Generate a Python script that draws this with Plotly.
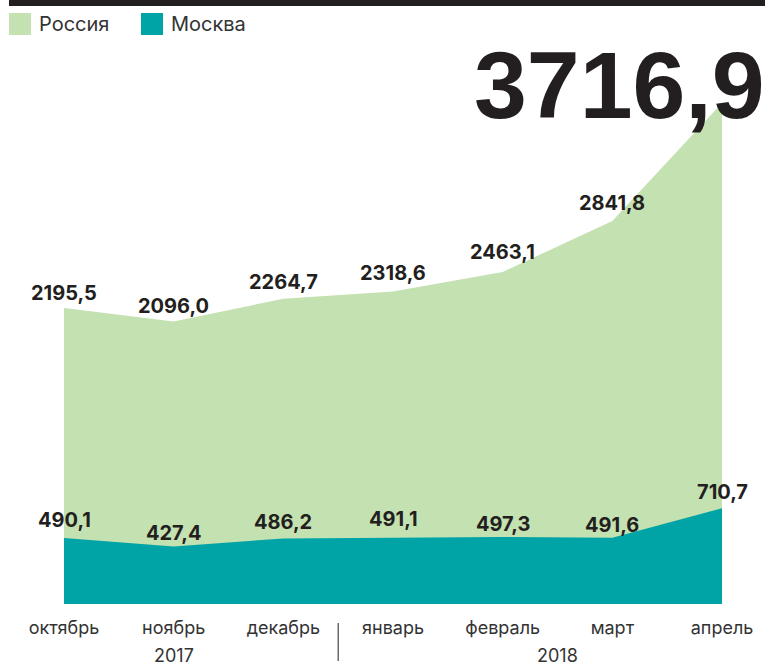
import plotly.graph_objects as go

months = ["октябрь", "ноябрь", "декабрь", "январь", "февраль", "март", "апрель"]
russia = [2195.5, 2096.0, 2264.7, 2318.6, 2463.1, 2841.8, 3716.9]
moscow = [490.1, 427.4, 486.2, 491.1, 497.3, 491.6, 710.7]
years = ["2017", "2018"]
year_pos = [1, 4.5]
series_names = ["Россия", "Москва"]

# label vertical offsets (px) above each point
russia_dy = [14, 14, 16, 17, 19, 17]
moscow_dy = [17, 12, 15, 18, 12, 12, 15]

GREEN = "#c4e1b1"
TEAL = "#00a3a6"
DARK = "#231f20"
TXT = "#333333"

W, H = 765, 666
L, R, T, B = 64, 43, 40, 62
PW, PH = W - L - R, H - T - B
SCALE = 0.1348
YMAX = PH / SCALE


def px(xp):
    return (xp - L) / PW


def py(yp):
    return (H - B - yp) / PH


x = list(range(len(months)))

fig = go.Figure()
fig.add_trace(go.Scatter(x=x, y=russia, mode="lines", fill="tozeroy",
                         fillcolor=GREEN, line=dict(width=0, color=GREEN),
                         name=series_names[0], hoverinfo="skip"))
fig.add_trace(go.Scatter(x=x, y=moscow, mode="lines", fill="tozeroy",
                         fillcolor=TEAL, line=dict(width=0, color=TEAL),
                         name=series_names[1], hoverinfo="skip"))

lab_font = dict(family="Inter", size=20, color=DARK, weight=700)
annotations = []
for i, v in enumerate(russia[:-1]):
    annotations.append(dict(x=i, y=v, xref="x", yref="y", text=f"{v:.1f}".replace(".", ","),
                            showarrow=False, font=lab_font, yanchor="middle",
                            yshift=russia_dy[i] + 1))
for i, v in enumerate(moscow):
    annotations.append(dict(x=i, y=v, xref="x", yref="y", text=f"{v:.1f}".replace(".", ","),
                            showarrow=False, font=lab_font, yanchor="middle",
                            yshift=moscow_dy[i] + 1))
# big final value
annotations.append(dict(x=x[-1], y=russia[-1], xref="x", yref="y",
                        text=f"{russia[-1]:.1f}".replace(".", ","), showarrow=False,
                        font=dict(family="Liberation Sans", size=95, color=DARK, weight=700),
                        xanchor="right", yanchor="middle", xshift=45, yshift=18))
# years
for yr, xp in zip(years, year_pos):
    annotations.append(dict(x=xp, y=py(655), xref="x", yref="paper", text=yr,
                            showarrow=False, font=dict(family="Inter", size=18, color=TXT),
                            yanchor="middle"))
# legend
legend_x = [9, 141]
for name, color, lx in zip(series_names, [GREEN, TEAL], legend_x):
    annotations.append(dict(x=px(lx + 28), y=py(24), xref="paper", yref="paper", text=name,
                            showarrow=False, xanchor="left", yanchor="middle",
                            font=dict(family="Inter", size=20, color=TXT)))

shapes = [
    dict(type="rect", xref="paper", yref="paper", x0=px(9), x1=px(765), y0=py(0), y1=py(6),
         fillcolor=DARK, line=dict(width=0)),
    dict(type="line", xref="x", yref="paper", x0=2.5, x1=2.5, y0=py(623), y1=py(661),
         line=dict(color=DARK, width=1)),
]
for color, lx in zip([GREEN, TEAL], legend_x):
    shapes.append(dict(type="rect", xref="paper", yref="paper", x0=px(lx), x1=px(lx + 22),
                       y0=py(13), y1=py(35), fillcolor=color, line=dict(width=0)))

fig.update_layout(
    width=W, height=H, margin=dict(l=L, r=R, t=T, b=B),
    paper_bgcolor="white", plot_bgcolor="white", showlegend=False,
    xaxis=dict(range=[0, 6], tickvals=x, ticktext=months, ticks="", showgrid=False,
               zeroline=False, showline=False, ticklabelstandoff=11,
               tickfont=dict(family="Inter", size=18, color=TXT),
               fixedrange=True),
    yaxis=dict(range=[0, YMAX], visible=False, fixedrange=True),
    annotations=annotations, shapes=shapes,
)

fig.write_html("out.html", config={"displayModeBar": False},
               post_script="document.body.style.margin='0px';document.body.style.overflow='hidden';")
